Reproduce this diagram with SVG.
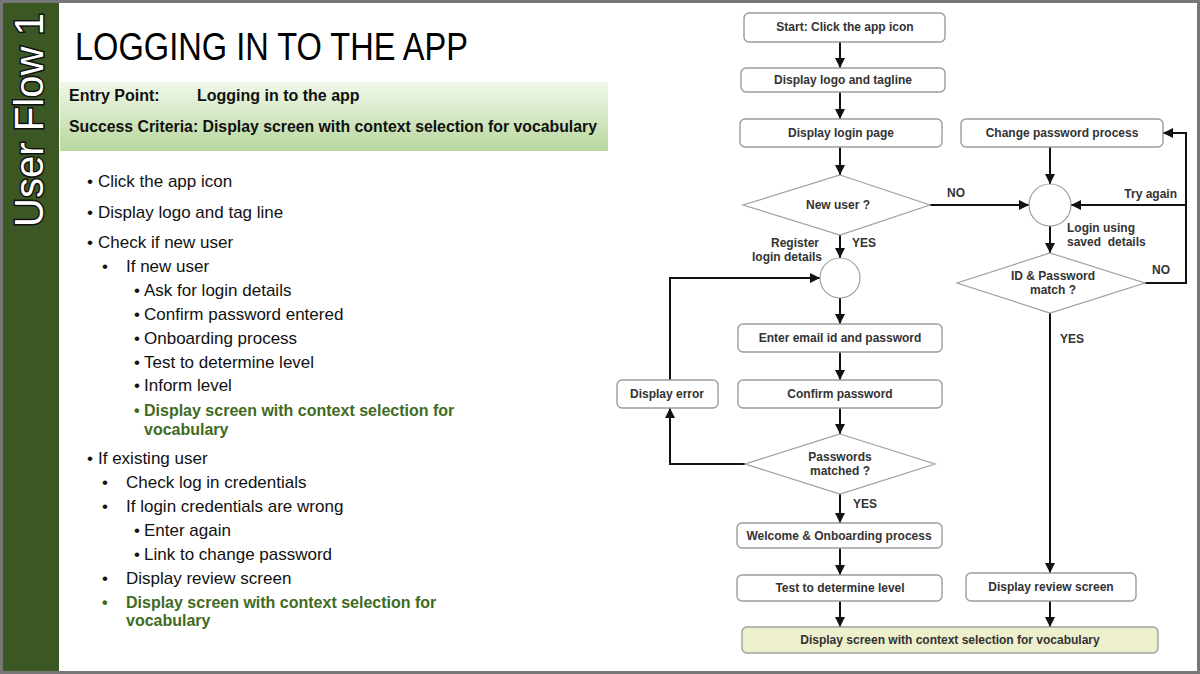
<svg xmlns="http://www.w3.org/2000/svg" width="1200" height="674" viewBox="0 0 1200 674">
<style>
.bt{font-family:"Liberation Sans",Arial,sans-serif;font-size:17px;fill:#111}
.gb{font-family:"Liberation Sans",Arial,sans-serif;font-size:16px;font-weight:bold;fill:#3f6b22}
.hd{font-family:"Liberation Sans",Arial,sans-serif;font-size:16px;font-weight:bold;fill:#111}
.box{fill:#fff;stroke:#9c9c9c;stroke-width:1.4}
.dia{fill:#fff;stroke:#a0a0a0;stroke-width:1.2}
.fl{font-family:"Liberation Sans",Arial,sans-serif;font-size:12px;font-weight:bold;fill:#333;white-space:pre}
.c{text-anchor:middle}
.ln{fill:none;stroke:#111;stroke-width:2}
</style>
<defs>
<linearGradient id="band" x1="0" y1="0" x2="0" y2="1">
<stop offset="0" stop-color="#f1f8ea"/>
<stop offset="1" stop-color="#b8d79d"/>
</linearGradient>
<marker id="ah" markerUnits="userSpaceOnUse" markerWidth="10" markerHeight="10" viewBox="0 0 10 10" refX="10" refY="5" orient="auto">
<path d="M0,0 L10,5 L0,10 z" fill="#111"/>
</marker>
</defs>
<rect x="0" y="0" width="1200" height="674" fill="#fff"/>
<rect x="3" y="3" width="56" height="668" fill="#3b5824"/>
<rect x="1.5" y="1.5" width="1197" height="671" fill="none" stroke="#777" stroke-width="3"/>
<text transform="translate(43,120) rotate(-90)" text-anchor="middle" font-family="Liberation Sans,Arial,sans-serif" font-size="40" fill="#fff" stroke="#111" stroke-width="3" paint-order="stroke" textLength="214" lengthAdjust="spacingAndGlyphs">User Flow 1</text>

<text x="75" y="60" font-family="Liberation Sans,Arial,sans-serif" font-size="38" fill="#000" textLength="393" lengthAdjust="spacingAndGlyphs">LOGGING IN TO THE APP</text>

<rect x="60" y="82" width="548" height="69" fill="url(#band)"/>
<text class="hd" x="69" y="101">Entry Point:</text>
<text class="hd" x="197" y="101">Logging in to the app</text>
<text class="hd" x="69" y="132" textLength="528" lengthAdjust="spacingAndGlyphs">Success Criteria: Display screen with context selection for vocabulary</text>

<g id="bullets">
<text class="bt" x="87" y="187">•</text><text class="bt" x="98" y="187">Click the app icon</text>
<text class="bt" x="87" y="218">•</text><text class="bt" x="98" y="218">Display logo and tag line</text>
<text class="bt" x="87" y="248">•</text><text class="bt" x="98" y="248">Check if new user</text>
<text class="bt" x="102" y="272">•</text><text class="bt" x="126" y="272">If new user</text>
<text class="bt" x="134" y="296">•</text><text class="bt" x="144" y="296">Ask for login details</text>
<text class="bt" x="134" y="320">•</text><text class="bt" x="144" y="320">Confirm password entered</text>
<text class="bt" x="134" y="344">•</text><text class="bt" x="144" y="344">Onboarding process</text>
<text class="bt" x="134" y="368">•</text><text class="bt" x="144" y="368">Test to determine level</text>
<text class="bt" x="134" y="391">•</text><text class="bt" x="144" y="391">Inform level</text>
<text class="gb" x="134" y="416">•</text><text class="gb" x="144" y="416">Display screen with context selection for</text>
<text class="gb" x="144" y="435">vocabulary</text>
<text class="bt" x="87" y="464">•</text><text class="bt" x="98" y="464">If existing user</text>
<text class="bt" x="102" y="488">•</text><text class="bt" x="126" y="488">Check log in credentials</text>
<text class="bt" x="102" y="512">•</text><text class="bt" x="126" y="512">If login credentials are wrong</text>
<text class="bt" x="134" y="536">•</text><text class="bt" x="144" y="536">Enter again</text>
<text class="bt" x="134" y="560">•</text><text class="bt" x="144" y="560">Link to change password</text>
<text class="bt" x="102" y="584">•</text><text class="bt" x="126" y="584">Display review screen</text>
<text class="gb" x="102" y="608">•</text><text class="gb" x="126" y="608">Display screen with context selection for</text>
<text class="gb" x="126" y="626">vocabulary</text>
</g>

<g id="connectors">
<path class="ln" marker-end="url(#ah)" d="M840,42 V68"/>
<path class="ln" marker-end="url(#ah)" d="M840,92 V119"/>
<path class="ln" marker-end="url(#ah)" d="M840,147 V175"/>
<path class="ln" marker-end="url(#ah)" d="M840,235 V258"/>
<path class="ln" marker-end="url(#ah)" d="M840,298 V324"/>
<path class="ln" marker-end="url(#ah)" d="M840,352 V380"/>
<path class="ln" marker-end="url(#ah)" d="M840,408 V434"/>
<path class="ln" marker-end="url(#ah)" d="M745,464 H670 V408"/>
<path class="ln" marker-end="url(#ah)" d="M670,380 V278 H820"/>
<path class="ln" marker-end="url(#ah)" d="M840,494 V523"/>
<path class="ln" marker-end="url(#ah)" d="M840,548 V575"/>
<path class="ln" marker-end="url(#ah)" d="M840,601 V627"/>
<path class="ln" marker-end="url(#ah)" d="M930,205 H1029"/>
<path class="ln" marker-end="url(#ah)" d="M1050,147 V184"/>
<path class="ln" marker-end="url(#ah)" d="M1186,205 H1071"/>
<path class="ln" marker-end="url(#ah)" d="M1145,283 H1186 V133 H1163"/>
<path class="ln" marker-end="url(#ah)" d="M1050,226 V253"/>
<path class="ln" marker-end="url(#ah)" d="M1050,313 V573"/>
<path class="ln" marker-end="url(#ah)" d="M1050,601 V627"/>
<text class="fl" x="956" y="197" text-anchor="middle">NO</text>
<text class="fl" x="1177" y="198" text-anchor="end">Try again</text>
<text class="fl" x="1161" y="274" text-anchor="middle">NO</text>
<text class="fl" x="1067" y="232">Login using</text>
<text class="fl" x="1067" y="246" xml:space="preserve">saved  details</text>
<text class="fl" x="1060" y="343">YES</text>
<text class="fl" x="852" y="247">YES</text>
<text class="fl" x="819" y="247" text-anchor="end">Register</text>
<text class="fl" x="822" y="261" text-anchor="end">login details</text>
<text class="fl" x="853" y="508">YES</text>
</g>

<g id="start"><rect class="box" x="744" y="13" width="201" height="29" rx="5"/><text class="fl c" x="845" y="31">Start: Click the app icon</text></g>
<g id="logo"><rect class="box" x="741" y="68" width="204" height="24" rx="5"/><text class="fl c" x="843" y="84">Display logo and tagline</text></g>
<g id="loginpage"><rect class="box" x="740" y="119" width="202" height="28" rx="5"/><text class="fl c" x="841" y="137">Display login page</text></g>
<g id="newuser"><polygon class="dia" points="840,175 930,205 840,235 743,205"/><text class="fl c" x="838" y="209">New user ?</text></g>
<g id="join1"><circle class="dia" cx="840" cy="278" r="20"/></g>
<g id="email"><rect class="box" x="738" y="324" width="204" height="28" rx="5"/><text class="fl c" x="840" y="342">Enter email id and password</text></g>
<g id="confirm"><rect class="box" x="738" y="380" width="204" height="28" rx="5"/><text class="fl c" x="840" y="398">Confirm password</text></g>
<g id="error"><rect class="box" x="617" y="380" width="101" height="28" rx="5"/><text class="fl c" x="667" y="398">Display error</text></g>
<g id="pwmatch"><polygon class="dia" points="840,434 935,464 840,494 745,464"/><text class="fl c" x="840" y="461">Passwords</text><text class="fl c" x="840" y="475">matched ?</text></g>
<g id="welcome"><rect class="box" x="737" y="523" width="205" height="25" rx="5"/><text class="fl c" x="839" y="540">Welcome &amp; Onboarding process</text></g>
<g id="test"><rect class="box" x="737" y="575" width="205" height="26" rx="5"/><text class="fl c" x="840" y="592">Test to determine level</text></g>
<g id="final"><rect x="742" y="627" width="416" height="26" rx="5" fill="#eeefcc" stroke="#a0a0a0" stroke-width="1.4"/><text class="fl c" x="950" y="644">Display screen with context selection for vocabulary</text></g>
<g id="changepw"><rect class="box" x="961" y="119" width="202" height="28" rx="5"/><text class="fl c" x="1062" y="137">Change password process</text></g>
<g id="join2"><circle class="dia" cx="1050" cy="205" r="21"/></g>
<g id="idmatch"><polygon class="dia" points="1050,253 1145,283 1050,313 957,283"/><text class="fl c" x="1053" y="280">ID &amp; Password</text><text class="fl c" x="1053" y="294">match ?</text></g>
<g id="review"><rect class="box" x="966" y="573" width="170" height="28" rx="5"/><text class="fl c" x="1051" y="591">Display review screen</text></g>
</svg>
